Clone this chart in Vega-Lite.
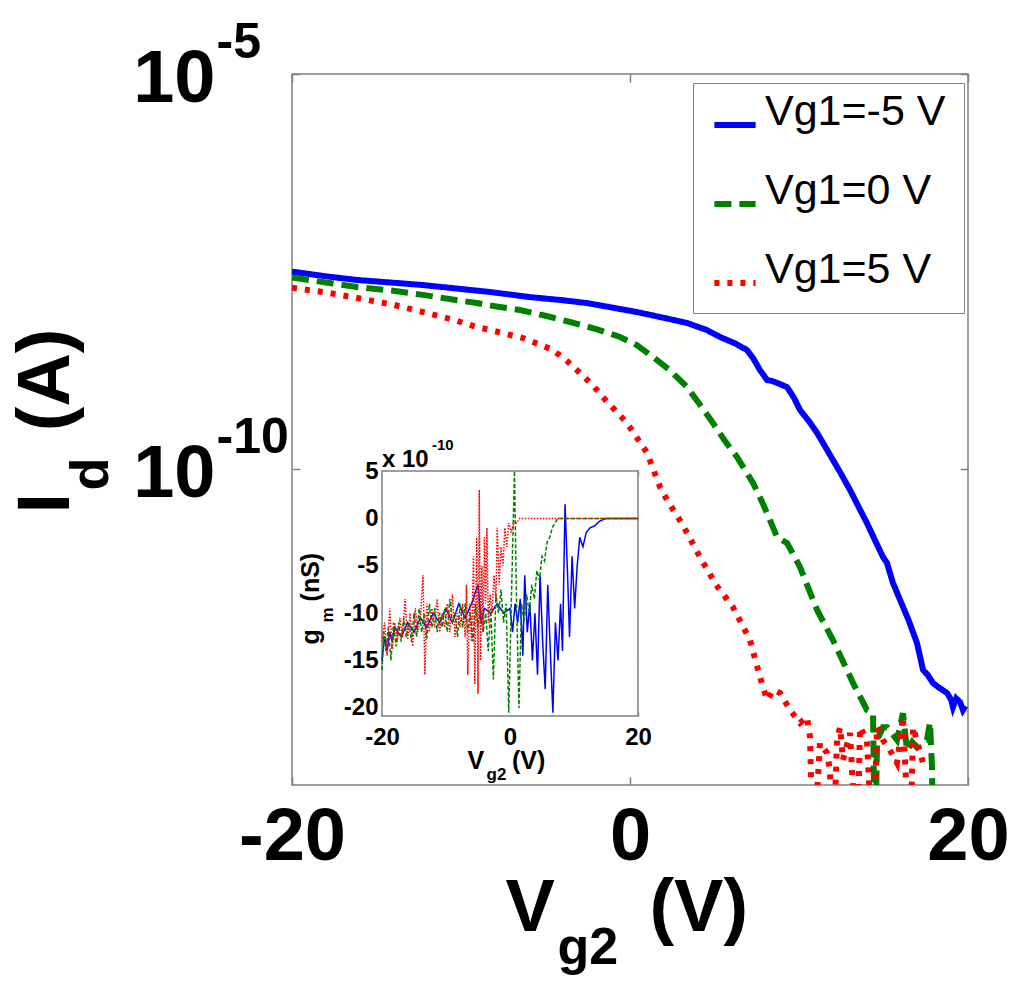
{
  "$schema": "https://vega.github.io/schema/vega-lite/v6.json",
  "description": "Id vs Vg2 for three Vg1 values, with gm inset",
  "autosize": "none",
  "width": 676,
  "height": 711,
  "padding": {"left": 292, "top": 74, "right": 56, "bottom": 204},
  "config": {
    "font": "Liberation Sans",
    "view": {"stroke": "#808080", "strokeWidth": 1.5},
    "axis": {"grid": false, "labelColor": "#000", "titleColor": "#000", "tickColor": "#808080", "tickWidth": 1.5, "labelFlush": false, "labelOverlap": false, "labelBound": false}
  },
  "resolve": {"scale": {"x": "independent", "y": "independent", "color": "independent", "strokeDash": "independent"}},
  "layer": [
    {
      "data": {"values": [
        {"series": "Vg1=-5 V", "V": -20, "I": 3.15e-8},
        {"series": "Vg1=-5 V", "V": -18, "I": 2.75e-8},
        {"series": "Vg1=-5 V", "V": -16.15, "I": 2.47e-8},
        {"series": "Vg1=-5 V", "V": -14, "I": 2.28e-8},
        {"series": "Vg1=-5 V", "V": -12.25, "I": 2.13e-8},
        {"series": "Vg1=-5 V", "V": -10, "I": 1.9e-8},
        {"series": "Vg1=-5 V", "V": -8.28, "I": 1.74e-8},
        {"series": "Vg1=-5 V", "V": -5.92, "I": 1.5e-8},
        {"series": "Vg1=-5 V", "V": -4, "I": 1.37e-8},
        {"series": "Vg1=-5 V", "V": -2.54, "I": 1.26e-8},
        {"series": "Vg1=-5 V", "V": -1, "I": 1.1e-8},
        {"series": "Vg1=-5 V", "V": 0.41, "I": 9.7e-9},
        {"series": "Vg1=-5 V", "V": 2, "I": 8.2e-9},
        {"series": "Vg1=-5 V", "V": 3.37, "I": 7.05e-9},
        {"series": "Vg1=-5 V", "V": 4.5, "I": 5.8e-9},
        {"series": "Vg1=-5 V", "V": 5.33, "I": 4.69e-9},
        {"series": "Vg1=-5 V", "V": 6.2, "I": 3.9e-9},
        {"series": "Vg1=-5 V", "V": 6.92, "I": 3.21e-9},
        {"series": "Vg1=-5 V", "V": 7.3, "I": 2.5e-9},
        {"series": "Vg1=-5 V", "V": 7.69, "I": 1.79e-9},
        {"series": "Vg1=-5 V", "V": 8.11, "I": 1.34e-9},
        {"series": "Vg1=-5 V", "V": 8.4, "I": 1.3e-9},
        {"series": "Vg1=-5 V", "V": 8.7, "I": 1.23e-9},
        {"series": "Vg1=-5 V", "V": 9.29, "I": 1.09e-9},
        {"series": "Vg1=-5 V", "V": 9.7, "I": 8.0e-10},
        {"series": "Vg1=-5 V", "V": 10.06, "I": 5.58e-10},
        {"series": "Vg1=-5 V", "V": 10.6, "I": 4.0e-10},
        {"series": "Vg1=-5 V", "V": 11.07, "I": 2.86e-10},
        {"series": "Vg1=-5 V", "V": 11.5, "I": 2.0e-10},
        {"series": "Vg1=-5 V", "V": 12.01, "I": 1.3e-10},
        {"series": "Vg1=-5 V", "V": 12.5, "I": 8.6e-11},
        {"series": "Vg1=-5 V", "V": 13.02, "I": 5.42e-11},
        {"series": "Vg1=-5 V", "V": 13.5, "I": 3.4e-11},
        {"series": "Vg1=-5 V", "V": 14.02, "I": 2.07e-11},
        {"series": "Vg1=-5 V", "V": 14.5, "I": 1.25e-11},
        {"series": "Vg1=-5 V", "V": 14.97, "I": 7.69e-12},
        {"series": "Vg1=-5 V", "V": 15.2, "I": 6.5e-12},
        {"series": "Vg1=-5 V", "V": 15.56, "I": 3.61e-12},
        {"series": "Vg1=-5 V", "V": 15.98, "I": 2.2e-12},
        {"series": "Vg1=-5 V", "V": 16.5, "I": 1.2e-12},
        {"series": "Vg1=-5 V", "V": 16.98, "I": 6.27e-13},
        {"series": "Vg1=-5 V", "V": 17.34, "I": 2.86e-13},
        {"series": "Vg1=-5 V", "V": 17.6, "I": 2.5e-13},
        {"series": "Vg1=-5 V", "V": 17.93, "I": 1.95e-13},
        {"series": "Vg1=-5 V", "V": 18.3, "I": 1.7e-13},
        {"series": "Vg1=-5 V", "V": 18.76, "I": 1.46e-13},
        {"series": "Vg1=-5 V", "V": 19.0, "I": 1.2e-13},
        {"series": "Vg1=-5 V", "V": 19.11, "I": 9.7e-14},
        {"series": "Vg1=-5 V", "V": 19.3, "I": 1.25e-13},
        {"series": "Vg1=-5 V", "V": 19.53, "I": 1.12e-13},
        {"series": "Vg1=-5 V", "V": 19.7, "I": 8.9e-14},
        {"series": "Vg1=-5 V", "V": 19.85, "I": 1.0e-13},
        {"series": "Vg1=0 V", "V": -20, "I": 2.65e-8},
        {"series": "Vg1=0 V", "V": -18, "I": 2.3e-8},
        {"series": "Vg1=0 V", "V": -16.15, "I": 2.01e-8},
        {"series": "Vg1=0 V", "V": -14, "I": 1.8e-8},
        {"series": "Vg1=0 V", "V": -12.25, "I": 1.6e-8},
        {"series": "Vg1=0 V", "V": -10.5, "I": 1.4e-8},
        {"series": "Vg1=0 V", "V": -9.05, "I": 1.26e-8},
        {"series": "Vg1=0 V", "V": -7.8, "I": 1.13e-8},
        {"series": "Vg1=0 V", "V": -6.51, "I": 1.03e-8},
        {"series": "Vg1=0 V", "V": -5, "I": 8.7e-9},
        {"series": "Vg1=0 V", "V": -3.55, "I": 7.26e-9},
        {"series": "Vg1=0 V", "V": -2, "I": 5.9e-9},
        {"series": "Vg1=0 V", "V": -0.59, "I": 4.69e-9},
        {"series": "Vg1=0 V", "V": 0.4, "I": 3.7e-9},
        {"series": "Vg1=0 V", "V": 1.36, "I": 2.62e-9},
        {"series": "Vg1=0 V", "V": 2.4, "I": 1.75e-9},
        {"series": "Vg1=0 V", "V": 3.37, "I": 1.09e-9},
        {"series": "Vg1=0 V", "V": 4.1, "I": 6.7e-10},
        {"series": "Vg1=0 V", "V": 4.91, "I": 3.82e-10},
        {"series": "Vg1=0 V", "V": 5.6, "I": 2.3e-10},
        {"series": "Vg1=0 V", "V": 6.33, "I": 1.42e-10},
        {"series": "Vg1=0 V", "V": 7.28, "I": 6.65e-11},
        {"series": "Vg1=0 V", "V": 7.9, "I": 3.5e-11},
        {"series": "Vg1=0 V", "V": 8.3, "I": 2.2e-11},
        {"series": "Vg1=0 V", "V": 8.7, "I": 1.38e-11},
        {"series": "Vg1=0 V", "V": 9.3, "I": 1.15e-11},
        {"series": "Vg1=0 V", "V": 10.06, "I": 5.74e-12},
        {"series": "Vg1=0 V", "V": 11.07, "I": 1.64e-12},
        {"series": "Vg1=0 V", "V": 12.01, "I": 6.84e-13},
        {"series": "Vg1=0 V", "V": 13.2, "I": 1.95e-13},
        {"series": "Vg1=0 V", "V": 14.02, "I": 8.9e-14},
        {"series": "Vg1=0 V", "V": 14.38, "I": 8.1e-14},
        {"series": "Vg1=0 V", "V": 14.5, "I": 1e-15},
        {"series": "Vg1=0 V", "V": 14.62, "I": 3.7e-14},
        {"series": "Vg1=0 V", "V": 14.97, "I": 5.4e-14},
        {"series": "Vg1=0 V", "V": 15.21, "I": 5.4e-14},
        {"series": "Vg1=0 V", "V": 15.5, "I": 4.5e-14},
        {"series": "Vg1=0 V", "V": 15.8, "I": 3.7e-14},
        {"series": "Vg1=0 V", "V": 16.15, "I": 8.1e-14},
        {"series": "Vg1=0 V", "V": 16.39, "I": 2.75e-14},
        {"series": "Vg1=0 V", "V": 16.7, "I": 3.5e-14},
        {"series": "Vg1=0 V", "V": 16.98, "I": 3.0e-14},
        {"series": "Vg1=0 V", "V": 17.3, "I": 3.5e-14},
        {"series": "Vg1=0 V", "V": 17.57, "I": 3.7e-14},
        {"series": "Vg1=0 V", "V": 17.75, "I": 6.2e-14},
        {"series": "Vg1=0 V", "V": 17.87, "I": 1.7e-14},
        {"series": "Vg1=0 V", "V": 17.95, "I": 1e-15},
        {"series": "Vg1=5 V", "V": -20, "I": 1.97e-8},
        {"series": "Vg1=5 V", "V": -18, "I": 1.72e-8},
        {"series": "Vg1=5 V", "V": -16.15, "I": 1.46e-8},
        {"series": "Vg1=5 V", "V": -14, "I": 1.2e-8},
        {"series": "Vg1=5 V", "V": -12.25, "I": 9.7e-9},
        {"series": "Vg1=5 V", "V": -10.5, "I": 7.8e-9},
        {"series": "Vg1=5 V", "V": -9.05, "I": 6.27e-9},
        {"series": "Vg1=5 V", "V": -7.6, "I": 5.3e-9},
        {"series": "Vg1=5 V", "V": -6.33, "I": 4.55e-9},
        {"series": "Vg1=5 V", "V": -5.4, "I": 3.8e-9},
        {"series": "Vg1=5 V", "V": -4.56, "I": 3.21e-9},
        {"series": "Vg1=5 V", "V": -3.7, "I": 2.3e-9},
        {"series": "Vg1=5 V", "V": -2.96, "I": 1.64e-9},
        {"series": "Vg1=5 V", "V": -2.2, "I": 1.15e-9},
        {"series": "Vg1=5 V", "V": -1.6, "I": 8.1e-10},
        {"series": "Vg1=5 V", "V": -0.9, "I": 5.6e-10},
        {"series": "Vg1=5 V", "V": -0.18, "I": 3.82e-10},
        {"series": "Vg1=5 V", "V": 0.4, "I": 2.5e-10},
        {"series": "Vg1=5 V", "V": 1.01, "I": 1.6e-10},
        {"series": "Vg1=5 V", "V": 1.78, "I": 5.9e-11},
        {"series": "Vg1=5 V", "V": 2.19, "I": 4.06e-11},
        {"series": "Vg1=5 V", "V": 3.1, "I": 2.0e-11},
        {"series": "Vg1=5 V", "V": 4.14, "I": 7.69e-12},
        {"series": "Vg1=5 V", "V": 5.1, "I": 3.4e-12},
        {"series": "Vg1=5 V", "V": 6.09, "I": 1.79e-12},
        {"series": "Vg1=5 V", "V": 7.1, "I": 6.84e-13},
        {"series": "Vg1=5 V", "V": 7.69, "I": 2.33e-13},
        {"series": "Vg1=5 V", "V": 8.11, "I": 1.19e-13},
        {"series": "Vg1=5 V", "V": 8.5, "I": 1.6e-13},
        {"series": "Vg1=5 V", "V": 8.88, "I": 1.46e-13},
        {"series": "Vg1=5 V", "V": 9.47, "I": 8.9e-14},
        {"series": "Vg1=5 V", "V": 10.06, "I": 6.1e-14},
        {"series": "Vg1=5 V", "V": 10.47, "I": 7.3e-14},
        {"series": "Vg1=5 V", "V": 10.65, "I": 4.1e-14},
        {"series": "Vg1=5 V", "V": 10.83, "I": 1e-15},
        {"series": "Vg1=5 V", "V": 11.24, "I": 3.4e-14},
        {"series": "Vg1=5 V", "V": 11.66, "I": 2.54e-14},
        {"series": "Vg1=5 V", "V": 11.83, "I": 1.55e-14},
        {"series": "Vg1=5 V", "V": 12.01, "I": 1e-15},
        {"series": "Vg1=5 V", "V": 12.25, "I": 3.7e-14},
        {"series": "Vg1=5 V", "V": 12.43, "I": 5.4e-14},
        {"series": "Vg1=5 V", "V": 12.6, "I": 2.07e-14},
        {"series": "Vg1=5 V", "V": 13.02, "I": 4.55e-14},
        {"series": "Vg1=5 V", "V": 13.43, "I": 1e-15},
        {"series": "Vg1=5 V", "V": 13.61, "I": 5.4e-14},
        {"series": "Vg1=5 V", "V": 14.02, "I": 3.7e-14},
        {"series": "Vg1=5 V", "V": 14.38, "I": 1e-15},
        {"series": "Vg1=5 V", "V": 14.62, "I": 5.4e-14},
        {"series": "Vg1=5 V", "V": 14.97, "I": 3.7e-14},
        {"series": "Vg1=5 V", "V": 15.38, "I": 2.77e-14},
        {"series": "Vg1=5 V", "V": 15.8, "I": 1.9e-14},
        {"series": "Vg1=5 V", "V": 16.15, "I": 7.3e-14},
        {"series": "Vg1=5 V", "V": 16.57, "I": 1e-15},
        {"series": "Vg1=5 V", "V": 16.75, "I": 5.4e-14},
        {"series": "Vg1=5 V", "V": 17.34, "I": 1.9e-14}
      ]},
      "mark": {"type": "line", "strokeWidth": 6, "clip": true},
      "encoding": {
        "x": {
          "field": "V", "type": "quantitative",
          "scale": {"domain": [-20, 20], "nice": false},
          "axis": {
            "orient": "bottom", "values": [-20, 0, 20], "domain": false, "tickSize": -8,
            "labelExpr": "'' + datum.value", "labelFontSize": 74, "labelFontWeight": "bold", "labelPadding": 24,
            "title": "V\u2002\u2002\u00a0(V)", "titleFontSize": 74, "titleFontWeight": "bold",
            "titleAlign": "left", "titleBaseline": "alphabetic", "titleAngle": 0, "titleX": 213, "titleY": 145
          }
        },
        "y": {
          "field": "I", "type": "quantitative",
          "scale": {"type": "log", "domain": [1e-14, 1e-5], "nice": false},
          "axis": {
            "orient": "left", "values": [1e-10, 1e-5], "domain": false, "tickSize": -8,
            "labelExpr": "'10'", "labelFontSize": 74, "labelFontWeight": "bold", "labelPadding": 85, "labelOffset": 5,
            "title": "I\u00a0\u00a0\u00a0(A)", "titleFontSize": 74, "titleFontWeight": "bold",
            "titleAlign": "left", "titleBaseline": "alphabetic", "titleAngle": 270, "titleX": -224, "titleY": 439
          }
        },
        "color": {
          "field": "series", "type": "nominal",
          "scale": {"domain": ["Vg1=-5 V", "Vg1=0 V", "Vg1=5 V"], "range": ["#0000ff", "#008000", "#ff0000"]},
          "legend": {
            "title": null, "orient": "none", "legendX": 401, "legendY": 9, "symbolType": "stroke", "symbolSize": 1700,
            "symbolStrokeWidth": 6, "labelFontSize": 43, "labelFontWeight": "normal", "labelColor": "#000", "labelLimit": 400,
            "labelBaseline": "alphabetic", "labelOffset": 6, "rowPadding": 33, "padding": 18,
            "fillColor": "#ffffff", "strokeColor": "#808080"
          }
        },
        "strokeDash": {
          "field": "series", "type": "nominal",
          "scale": {"domain": ["Vg1=-5 V", "Vg1=0 V", "Vg1=5 V"], "range": [[1, 0], [17, 8], [5, 8]]},
          "legend": {
            "title": null, "orient": "none", "legendX": 401, "legendY": 9, "symbolType": "stroke", "symbolSize": 1700,
            "symbolStrokeWidth": 6, "labelFontSize": 43, "labelFontWeight": "normal", "labelColor": "#000", "labelLimit": 400,
            "labelBaseline": "alphabetic", "labelOffset": 6, "rowPadding": 33, "padding": 18,
            "fillColor": "#ffffff", "strokeColor": "#808080"
          }
        }
      }
    },
    {
      "data": {"values": [{"V": 0, "I": 1e-10}]},
      "mark": {"type": "point", "opacity": 0},
      "encoding": {
        "x": {
          "field": "V", "type": "quantitative",
          "scale": {"domain": [-20, 20], "nice": false},
          "axis": {
            "orient": "top", "values": [-20, 0, 20], "domain": false, "labels": false, "tickSize": -8,
            "title": "g2", "titleFontSize": 52, "titleFontWeight": "bold",
            "titleAlign": "left", "titleBaseline": "alphabetic", "titleAngle": 0, "titleX": 265, "titleY": 889
          }
        },
        "y": {
          "field": "I", "type": "quantitative",
          "scale": {"type": "log", "domain": [1e-14, 1e-5], "nice": false},
          "axis": {
            "orient": "left", "values": [1e-10, 1e-5], "domain": false, "ticks": false,
            "labelExpr": "datum.value > 1e-7 ? '-5' : '-10'", "labelFontSize": 50, "labelFontWeight": "bold",
            "labelAlign": "left", "labelPadding": 76, "labelOffset": -32,
            "title": "d", "titleFontSize": 54, "titleFontWeight": "bold",
            "titleAlign": "left", "titleBaseline": "alphabetic", "titleAngle": 270, "titleX": -185, "titleY": 416
          }
        }
      }
    },
    {
      "data": {"values": [{"V": 0, "I": 1e-10}]},
      "mark": {"type": "point", "opacity": 0},
      "encoding": {
        "x": {"field": "V", "type": "quantitative", "scale": {"domain": [-20, 20], "nice": false}, "axis": null},
        "y": {
          "field": "I", "type": "quantitative",
          "scale": {"type": "log", "domain": [1e-14, 1e-5], "nice": false},
          "axis": {"orient": "right", "values": [1e-10, 1e-5], "domain": false, "labels": false, "tickSize": -8, "title": null}
        }
      }
    },
    {
      "encoding": {
        "x": {
          "field": "V", "type": "quantitative",
          "scale": {"domain": [-20, 20], "nice": false, "range": [90, 346]},
          "axis": {
            "orient": "bottom", "offset": -69, "values": [-20, 0, 20], "domain": false, "tickSize": -4,
            "labelExpr": "'' + datum.value", "labelFontSize": 24, "labelFontWeight": "bold", "labelPadding": 13,
            "title": "V\u00a0\u00a0\u00a0\u00a0(V)", "titleFontSize": 25, "titleFontWeight": "bold",
            "titleAlign": "left", "titleBaseline": "alphabetic", "titleAngle": 0, "titleX": 175, "titleY": 52
          }
        },
        "y": {
          "field": "gm", "type": "quantitative",
          "scale": {"domain": [-20.85, 5], "nice": false, "range": [642, 397]},
          "axis": {
            "orient": "left", "offset": -90, "values": [-20, -15, -10, -5, 0, 5], "domain": false, "tickSize": -4,
            "labelExpr": "'' + datum.value", "labelFontSize": 24, "labelFontWeight": "bold", "labelPadding": 8,
            "title": "g\u00a0\u00a0\u00a0\u00a0(nS)", "titleFontSize": 25, "titleFontWeight": "bold",
            "titleAlign": "left", "titleBaseline": "alphabetic", "titleAngle": 270, "titleX": -64, "titleY": 570
          }
        }
      },
      "layer": [
        {
          "data": {"values": [{"V": -20, "V2": 20, "gm": -20.85, "gm2": 5}]},
          "mark": {"type": "rect", "fill": "#ffffff", "stroke": "#808080", "strokeWidth": 1.5},
          "encoding": {"x2": {"field": "V2"}, "y2": {"field": "gm2"}}
        },
        {
          "data": {"values": [
            {"s": "-5", "V": -20, "gm": -15}, {"s": "-5", "V": -19.6, "gm": -12.5}, {"s": "-5", "V": -19.2, "gm": -14},
            {"s": "-5", "V": -18.8, "gm": -12}, {"s": "-5", "V": -18.4, "gm": -13}, {"s": "-5", "V": -18, "gm": -11.5},
            {"s": "-5", "V": -17, "gm": -12.5}, {"s": "-5", "V": -16, "gm": -11}, {"s": "-5", "V": -15, "gm": -12},
            {"s": "-5", "V": -14, "gm": -10.5}, {"s": "-5", "V": -13, "gm": -11.5}, {"s": "-5", "V": -12, "gm": -10},
            {"s": "-5", "V": -11, "gm": -11}, {"s": "-5", "V": -10, "gm": -9.5}, {"s": "-5", "V": -9, "gm": -11},
            {"s": "-5", "V": -8, "gm": -9}, {"s": "-5", "V": -7, "gm": -10.5}, {"s": "-5", "V": -6, "gm": -9},
            {"s": "-5", "V": -5, "gm": -7}, {"s": "-5", "V": -4.5, "gm": -11}, {"s": "-5", "V": -4, "gm": -9.5},
            {"s": "-5", "V": -3, "gm": -10}, {"s": "-5", "V": -2, "gm": -9}, {"s": "-5", "V": -1, "gm": -10},
            {"s": "-5", "V": 0, "gm": -9.5}, {"s": "-5", "V": 0.4, "gm": -12}, {"s": "-5", "V": 0.8, "gm": -9},
            {"s": "-5", "V": 1.2, "gm": -11}, {"s": "-5", "V": 1.6, "gm": -8.5}, {"s": "-5", "V": 2, "gm": -14.5},
            {"s": "-5", "V": 2.3, "gm": -6}, {"s": "-5", "V": 2.7, "gm": -12}, {"s": "-5", "V": 3.1, "gm": -9},
            {"s": "-5", "V": 3.5, "gm": -15}, {"s": "-5", "V": 3.9, "gm": -10}, {"s": "-5", "V": 4.3, "gm": -16.5},
            {"s": "-5", "V": 4.7, "gm": -6}, {"s": "-5", "V": 5.1, "gm": -13}, {"s": "-5", "V": 5.5, "gm": -18},
            {"s": "-5", "V": 5.9, "gm": -7}, {"s": "-5", "V": 6.3, "gm": -14}, {"s": "-5", "V": 6.7, "gm": -20.5},
            {"s": "-5", "V": 7.1, "gm": -11}, {"s": "-5", "V": 7.5, "gm": -15}, {"s": "-5", "V": 7.9, "gm": -9},
            {"s": "-5", "V": 8.2, "gm": -14}, {"s": "-5", "V": 8.6, "gm": 1.5}, {"s": "-5", "V": 9, "gm": -6},
            {"s": "-5", "V": 9.3, "gm": -12.5}, {"s": "-5", "V": 9.7, "gm": -4}, {"s": "-5", "V": 10.1, "gm": -9.5},
            {"s": "-5", "V": 10.5, "gm": -5}, {"s": "-5", "V": 10.9, "gm": -2}, {"s": "-5", "V": 11.4, "gm": -3},
            {"s": "-5", "V": 11.9, "gm": -1.5}, {"s": "-5", "V": 12.5, "gm": -1}, {"s": "-5", "V": 13.2, "gm": -0.8},
            {"s": "-5", "V": 14, "gm": -0.3}, {"s": "-5", "V": 15, "gm": 0}, {"s": "-5", "V": 20, "gm": 0},
            {"s": "0", "V": -20, "gm": -16}, {"s": "0", "V": -19.7, "gm": -12}, {"s": "0", "V": -19.4, "gm": -14},
            {"s": "0", "V": -19, "gm": -11.5}, {"s": "0", "V": -18.6, "gm": -15}, {"s": "0", "V": -18.2, "gm": -11},
            {"s": "0", "V": -17.8, "gm": -13.5}, {"s": "0", "V": -17.4, "gm": -11}, {"s": "0", "V": -17, "gm": -13},
            {"s": "0", "V": -16.6, "gm": -10.5}, {"s": "0", "V": -16.2, "gm": -12.5}, {"s": "0", "V": -15.8, "gm": -11},
            {"s": "0", "V": -15.4, "gm": -13}, {"s": "0", "V": -15, "gm": -10}, {"s": "0", "V": -14.6, "gm": -12.5},
            {"s": "0", "V": -14.2, "gm": -9.5}, {"s": "0", "V": -13.8, "gm": -12}, {"s": "0", "V": -13.4, "gm": -10},
            {"s": "0", "V": -13, "gm": -12.7}, {"s": "0", "V": -12.6, "gm": -9}, {"s": "0", "V": -12.2, "gm": -11.5},
            {"s": "0", "V": -11.8, "gm": -9.5}, {"s": "0", "V": -11.4, "gm": -12}, {"s": "0", "V": -11, "gm": -10},
            {"s": "0", "V": -10.6, "gm": -11.5}, {"s": "0", "V": -10.2, "gm": -9.5}, {"s": "0", "V": -9.8, "gm": -12},
            {"s": "0", "V": -9.4, "gm": -8.5}, {"s": "0", "V": -9, "gm": -11}, {"s": "0", "V": -8.6, "gm": -10},
            {"s": "0", "V": -8.2, "gm": -12.5}, {"s": "0", "V": -7.8, "gm": -9}, {"s": "0", "V": -7.4, "gm": -11.5},
            {"s": "0", "V": -7, "gm": -9}, {"s": "0", "V": -6.6, "gm": -12}, {"s": "0", "V": -6.2, "gm": -10},
            {"s": "0", "V": -5.8, "gm": -13}, {"s": "0", "V": -5.4, "gm": -9}, {"s": "0", "V": -5, "gm": -11.5},
            {"s": "0", "V": -4.6, "gm": -9.5}, {"s": "0", "V": -4.2, "gm": -12}, {"s": "0", "V": -3.8, "gm": -10},
            {"s": "0", "V": -3.4, "gm": -14}, {"s": "0", "V": -3, "gm": -9.5}, {"s": "0", "V": -2.6, "gm": -17},
            {"s": "0", "V": -2.2, "gm": -8}, {"s": "0", "V": -1.8, "gm": -10}, {"s": "0", "V": -1.4, "gm": -7.5},
            {"s": "0", "V": -1, "gm": -11}, {"s": "0", "V": -0.6, "gm": -9}, {"s": "0", "V": -0.2, "gm": -20.5},
            {"s": "0", "V": 0.2, "gm": -9}, {"s": "0", "V": 0.7, "gm": 5}, {"s": "0", "V": 1, "gm": -8},
            {"s": "0", "V": 1.4, "gm": -20}, {"s": "0", "V": 1.8, "gm": -9}, {"s": "0", "V": 2.2, "gm": -11},
            {"s": "0", "V": 2.6, "gm": -8}, {"s": "0", "V": 3, "gm": -10}, {"s": "0", "V": 3.4, "gm": -7},
            {"s": "0", "V": 3.8, "gm": -8.5}, {"s": "0", "V": 4.2, "gm": -5.5}, {"s": "0", "V": 4.6, "gm": -6.5},
            {"s": "0", "V": 5, "gm": -4}, {"s": "0", "V": 5.4, "gm": -4.5}, {"s": "0", "V": 5.8, "gm": -2.5},
            {"s": "0", "V": 6.2, "gm": -2}, {"s": "0", "V": 6.6, "gm": -1}, {"s": "0", "V": 7, "gm": -0.5},
            {"s": "0", "V": 7.5, "gm": 0}, {"s": "0", "V": 20, "gm": 0},
            {"s": "5", "V": -20, "gm": -13}, {"s": "5", "V": -19.6, "gm": -11}, {"s": "5", "V": -19.2, "gm": -14.5},
            {"s": "5", "V": -18.8, "gm": -9.5}, {"s": "5", "V": -18.4, "gm": -13.8}, {"s": "5", "V": -18, "gm": -11},
            {"s": "5", "V": -17.6, "gm": -13}, {"s": "5", "V": -17.2, "gm": -10.5}, {"s": "5", "V": -16.8, "gm": -12.5},
            {"s": "5", "V": -16.4, "gm": -8.5}, {"s": "5", "V": -16, "gm": -12.8}, {"s": "5", "V": -15.6, "gm": -10},
            {"s": "5", "V": -15.2, "gm": -13.5}, {"s": "5", "V": -14.8, "gm": -9.5}, {"s": "5", "V": -14.4, "gm": -12},
            {"s": "5", "V": -14, "gm": -10.5}, {"s": "5", "V": -13.6, "gm": -6}, {"s": "5", "V": -13.3, "gm": -16.5},
            {"s": "5", "V": -13, "gm": -9}, {"s": "5", "V": -12.6, "gm": -12}, {"s": "5", "V": -12.2, "gm": -9.5},
            {"s": "5", "V": -11.8, "gm": -11.5}, {"s": "5", "V": -11.4, "gm": -8.5}, {"s": "5", "V": -11, "gm": -12},
            {"s": "5", "V": -10.6, "gm": -10}, {"s": "5", "V": -10.2, "gm": -11.5}, {"s": "5", "V": -9.8, "gm": -9},
            {"s": "5", "V": -9.4, "gm": -12}, {"s": "5", "V": -9, "gm": -8}, {"s": "5", "V": -8.6, "gm": -12.5},
            {"s": "5", "V": -8.2, "gm": -10}, {"s": "5", "V": -7.8, "gm": -11.5}, {"s": "5", "V": -7.4, "gm": -9},
            {"s": "5", "V": -7, "gm": -12.5}, {"s": "5", "V": -6.8, "gm": -7}, {"s": "5", "V": -6.6, "gm": -16.5},
            {"s": "5", "V": -6.3, "gm": -9}, {"s": "5", "V": -6, "gm": -13}, {"s": "5", "V": -5.7, "gm": -4},
            {"s": "5", "V": -5.5, "gm": -17.5}, {"s": "5", "V": -5.2, "gm": -2}, {"s": "5", "V": -5, "gm": -18.5},
            {"s": "5", "V": -4.8, "gm": 3}, {"s": "5", "V": -4.6, "gm": -15}, {"s": "5", "V": -4.4, "gm": -5},
            {"s": "5", "V": -4.2, "gm": -12}, {"s": "5", "V": -4, "gm": -2}, {"s": "5", "V": -3.8, "gm": -9},
            {"s": "5", "V": -3.6, "gm": -1}, {"s": "5", "V": -3.4, "gm": -11}, {"s": "5", "V": -3.1, "gm": -8},
            {"s": "5", "V": -2.8, "gm": -10}, {"s": "5", "V": -2.5, "gm": -6}, {"s": "5", "V": -2.2, "gm": -8.5},
            {"s": "5", "V": -2, "gm": -1}, {"s": "5", "V": -1.7, "gm": -7}, {"s": "5", "V": -1.4, "gm": -3},
            {"s": "5", "V": -1.1, "gm": -5}, {"s": "5", "V": -0.8, "gm": -1}, {"s": "5", "V": -0.5, "gm": -3},
            {"s": "5", "V": -0.2, "gm": -0.5}, {"s": "5", "V": 0.2, "gm": -1.5}, {"s": "5", "V": 0.6, "gm": -0.3},
            {"s": "5", "V": 1, "gm": -0.5}, {"s": "5", "V": 1.5, "gm": 0}, {"s": "5", "V": 20, "gm": 0}
          ]},
          "mark": {"type": "line", "strokeWidth": 1.5},
          "encoding": {
            "color": {"field": "s", "type": "nominal", "scale": {"domain": ["-5", "0", "5"], "range": ["#0000ff", "#008000", "#ff0000"]}, "legend": null},
            "strokeDash": {"field": "s", "type": "nominal", "scale": {"domain": ["-5", "0", "5"], "range": [[1, 0], [4, 2], [1.5, 1.5]]}, "legend": null}
          }
        },
        {
          "data": {"values": [{"V": -20, "gm": 5}]},
          "mark": {"type": "text", "text": "x 10", "align": "left", "baseline": "alphabetic", "dy": -4, "fontSize": 24, "fontWeight": "bold", "color": "#000"}
        },
        {
          "data": {"values": [{"V": -20, "gm": 5}]},
          "mark": {"type": "text", "text": "-10", "align": "left", "baseline": "alphabetic", "dx": 50, "dy": -21, "fontSize": 15, "fontWeight": "bold", "color": "#000"}
        }
      ]
    },
    {
      "data": {"values": [{"V": 0, "gm": 0}]},
      "mark": {"type": "point", "opacity": 0},
      "encoding": {
        "x": {
          "field": "V", "type": "quantitative",
          "scale": {"domain": [-20, 20], "nice": false, "range": [90, 346]},
          "axis": {
            "orient": "top", "offset": -397, "values": [-20, 0, 20], "domain": false, "labels": false, "tickSize": -4,
            "title": "g2", "titleFontSize": 17, "titleFontWeight": "bold",
            "titleAlign": "left", "titleBaseline": "alphabetic", "titleAngle": 0, "titleX": 194, "titleY": 308
          }
        },
        "y": {
          "field": "gm", "type": "quantitative",
          "scale": {"domain": [-20.85, 5], "nice": false, "range": [642, 397]},
          "axis": {
            "orient": "right", "offset": -330, "values": [-20, -15, -10, -5, 0, 5], "domain": false, "labels": false, "tickSize": -4,
            "title": "m", "titleFontSize": 17, "titleFontWeight": "bold",
            "titleAlign": "left", "titleBaseline": "alphabetic", "titleAngle": 270, "titleX": -306, "titleY": 548
          }
        }
      }
    }
  ]
}
